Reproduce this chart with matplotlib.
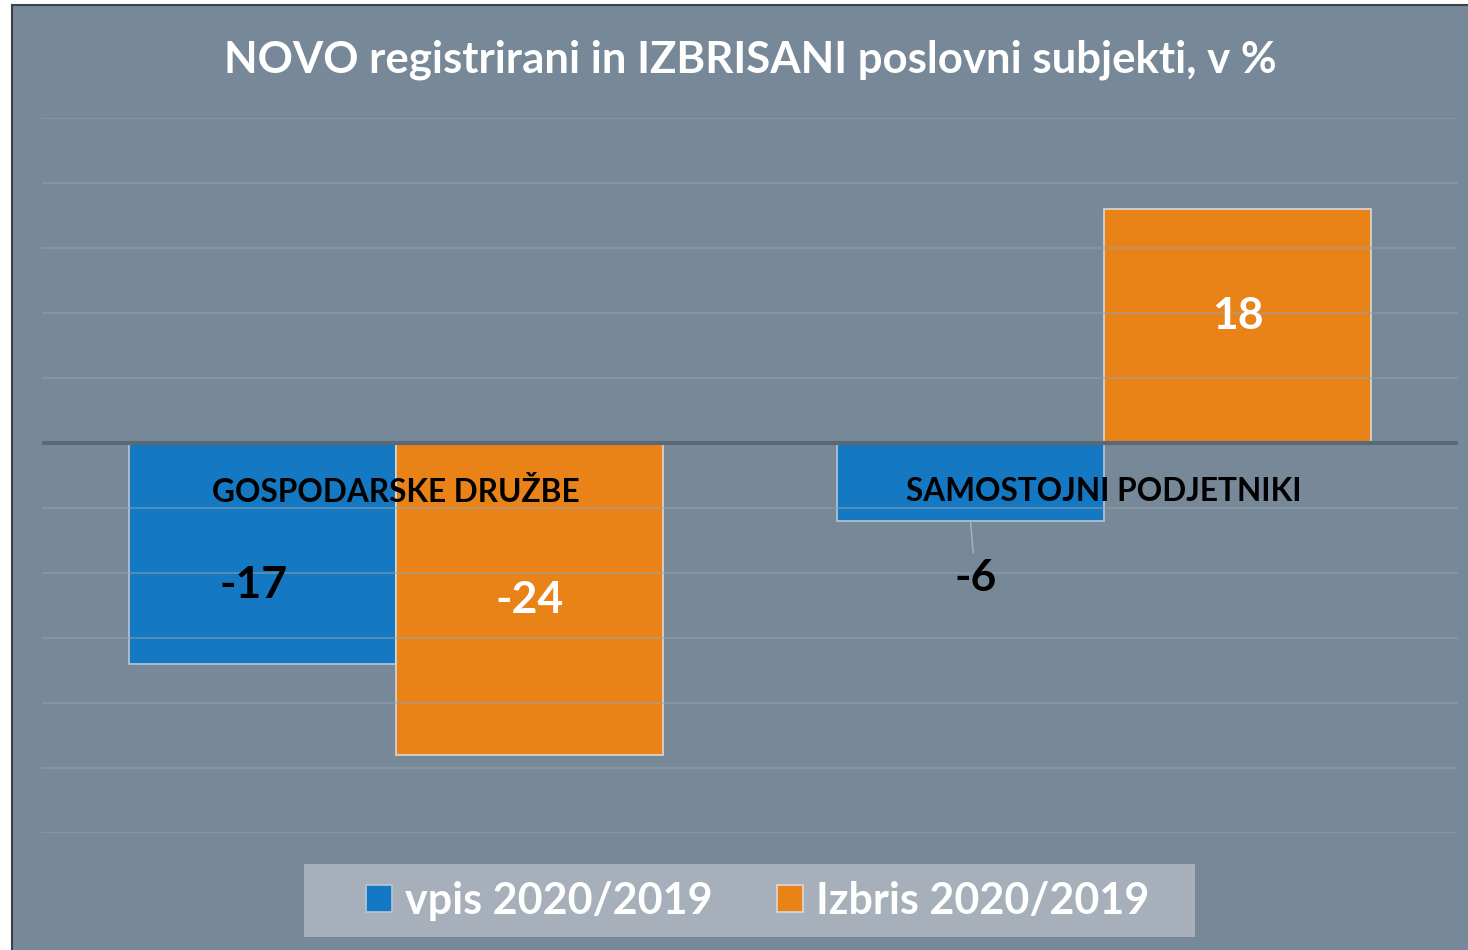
import numpy as np
import matplotlib.pyplot as plt
from matplotlib.patches import Rectangle

plt.rcParams['font.family'] = ['Lato', 'DejaVu Sans']

categories = ["GOSPODARSKE DRUŽBE", "SAMOSTOJNI PODJETNIKI"]
series_names = ["vpis 2020/2019", "Izbris 2020/2019"]
vpis = [-17, -6]
izbris = [-24, 18]

bg = "#778898"
blue = "#1578c2"
orange = "#e98318"

fig = plt.figure(figsize=(14.68, 9.5), dpi=100)
fig.patch.set_facecolor("white")
# chart panel with dark border (cut off at right and bottom)
fig.patches.append(Rectangle((12 / 1468, -0.01), 1.0, 1.0 - 5 / 950 + 0.01,
                             transform=fig.transFigure, facecolor=bg,
                             edgecolor="#3c4148", linewidth=1.5, zorder=-10))
# legend panel
fig.patches.append(Rectangle((304 / 1468, 1 - 937 / 950), 891 / 1468, 73 / 950,
                             transform=fig.transFigure, facecolor="#a7b0ba",
                             edgecolor="none", zorder=-5))

ax = fig.add_axes([42 / 1468, 117 / 950, 1416 / 1468, 715 / 950])
ax.set_facecolor("none")

x = np.arange(len(categories))
w = 0.377
b1 = ax.bar(x - w / 2, vpis, w, color=blue, edgecolor="#b9c6d3", linewidth=1.2,
            label=series_names[0], zorder=2)
b2 = ax.bar(x + w / 2, izbris, w, color=orange, edgecolor="#d9d9d9", linewidth=1.2,
            label=series_names[1], zorder=2)

for yv in np.arange(-30, 26, 5):
    if yv != 0:
        ax.axhline(yv, color="#93a1b0", linewidth=1.2, alpha=0.6, zorder=3)
ax.axhline(0, color="#5b6876", linewidth=3, zorder=4)

ax.set_xlim(-0.5, 1.5)
ax.set_ylim(-30, 25)
for s in ax.spines.values():
    s.set_visible(False)
ax.set_xticks([])
ax.set_yticks([])

# category labels inside the plot
for xi, c in zip(x, categories):
    ax.text(xi, -3.75, c, ha="center", va="center", fontsize=22.8,
            fontweight="bold", color="black", zorder=5)

# value labels
ax.text(x[0] - w / 2 - 0.012, -10.9, f"{vpis[0]}", ha="center", va="center",
        fontsize=32, fontweight="bold", color="black", zorder=5)
ax.text(x[0] + w / 2, -12.1, f"{izbris[0]}", ha="center", va="center",
        fontsize=32, fontweight="bold", color="white", zorder=5)
ax.annotate(f"{vpis[1]}", xy=(x[1] - w / 2, vpis[1] - 0.1),
            xytext=(x[1] - w / 2 + 0.007, -10.4), ha="center", va="center",
            fontsize=32, fontweight="bold", color="black", zorder=5,
            arrowprops=dict(arrowstyle="-", color="#a9b6c3", lw=1,
                            shrinkA=2, shrinkB=0))
ax.text(x[1] + w / 2, 9.75, f"{izbris[1]}", ha="center", va="center",
        fontsize=32, fontweight="bold", color="white", zorder=5)

fig.text(750 / 1468, 1 - 60 / 950, "NOVO registrirani in IZBRISANI poslovni subjekti, v %",
         ha="center", va="center", fontsize=31.5, fontweight="bold", color="white")

leg = fig.legend(handles=[b1, b2], labels=series_names, loc="center",
                 bbox_to_anchor=(758 / 1468, 1 - 901 / 950), ncol=2,
                 frameon=False, prop={"weight": "bold", "size": 31},
                 handlelength=0.6, handleheight=0.6, handletextpad=0.3,
                 columnspacing=1.5, borderpad=0.2)
for t in leg.get_texts():
    t.set_color("white")

fig.savefig("out.png", dpi=100, facecolor=fig.get_facecolor())
